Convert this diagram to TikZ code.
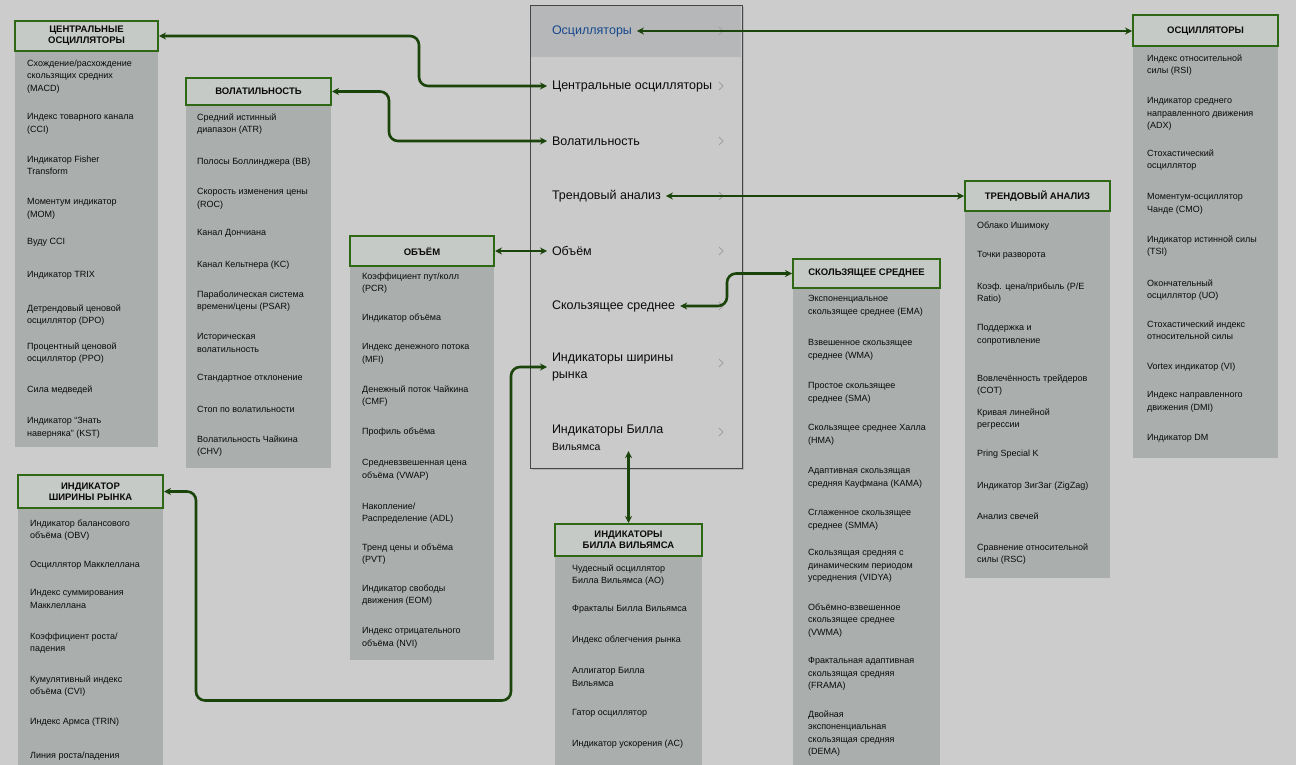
\documentclass[tikz,border=0pt]{standalone}
\usepackage{fontspec}
\setmainfont{Liberation Sans}
\usepackage{tikz}
\usetikzlibrary{arrows.meta, shadows}
\definecolor{IxBack}{RGB}{204,204,204}
\definecolor{IxPanel}{RGB}{170,174,172}
\definecolor{IxHead}{RGB}{198,202,198}
\definecolor{IxGreen}{RGB}{46,104,20}
\definecolor{IxLink}{RGB}{26,68,10}
\definecolor{IxMenu}{RGB}{202,202,202}
\definecolor{IxMenuTop}{RGB}{182,183,184}
\definecolor{IxBlue}{RGB}{22,72,140}
\definecolor{IxText}{RGB}{10,10,10}

\begin{document}
\begin{tikzpicture}[x=1pt, y=-1pt,
          head/.style={rectangle, draw=IxGreen, line width=2pt, fill=IxHead,
                       minimum width=143pt, minimum height=30pt, align=center,
                       inner sep=1pt, text=IxText,
                       font=\fontsize{9.5}{11}\selectfont\bfseries},
          item/.style={anchor=north west, align=left, inner sep=0pt, text=IxText,
                       font=\fontsize{9}{12.5}\selectfont},
          mitem/.style={anchor=west, align=left, inner sep=0pt, outer xsep=5pt,
                        text=IxText, font=\fontsize{12.5}{17}\selectfont},
          panel/.style={fill=IxPanel},
          chev/.style={draw=gray!75, line width=0.8pt},
          link/.style={{Stealth[length=7pt,width=7pt]}-{Stealth[length=7pt,width=7pt]},
                       draw=IxLink, line width=2.6pt, rounded corners=9pt}
        ]
        \useasboundingbox (0,0) rectangle (1296,765);
        \fill[IxBack] (0,0) rectangle (1296,765);

        % Menu
        \node[draw=gray!55!black, line width=0.8pt, fill=IxMenu, inner sep=0pt,
              minimum width=212pt, minimum height=463pt,
              drop shadow={opacity=0.35, shadow xshift=2pt, shadow yshift=-2pt}]
              (menu) at (636,236.5) {};
        \fill[IxMenuTop] (531,6) rectangle (741,57);

        \node[mitem, text=IxBlue] (m1) at (547,31)  {Осцилляторы};
        \node[mitem] (m2) at (547,86)  {Центральные осцилляторы};
        \node[mitem] (m3) at (547,141) {Волатильность};
        \node[mitem] (m4) at (547,196) {Трендовый анализ};
        \node[mitem] (m5) at (547,251) {Объём};
        \node[mitem] (m6) at (547,306) {Скользящее среднее};
        \node[mitem] (m7) at (547,367) {Индикаторы ширины\\рынка};
        \node[mitem] (m8) at (547,438) {Индикаторы Билла\\{\fontsize{10.5}{17}\selectfont Вильямса}};

        \foreach \y in {31,86,141,196,251,306,363,432}
          \draw[chev] (719,\y-4) -- (723,\y) -- (719,\y+4);

        % Central oscillators
        \fill[panel] (15,52) rectangle (158,447);
        \node[head] (hcen) at (86.5,36) {ЦЕНТРАЛЬНЫЕ\\ОСЦИЛЛЯТОРЫ};
        \foreach \y/\t [count=\i] in {
            64/{Схождение/расхождение\\скользящих средних\\(MACD)},
            118/{Индекс товарного канала\\(CCI)},
            160/{Индикатор Fisher\\Transform},
            203/{Моментум индикатор\\(MOM)},
            243/{Вуду CCI},
            276/{Индикатор TRIX},
            309/{Детрендовый ценовой\\осциллятор (DPO)},
            347/{Процентный ценовой\\осциллятор (PPO)},
            390/{Сила медведей},
            422/{Индикатор “Знать\\наверняка” (KST)}}
          \node[item] (cen\i) at (27,\y-4.5) {\t};

        % Volatility
        \fill[panel] (186,105) rectangle (331,468);
        \node[head, minimum width=145pt, minimum height=27pt] (hvol) at (258.5,91.5) {ВОЛАТИЛЬНОСТЬ};
        \foreach \y/\t [count=\i] in {
            118/{Средний истинный\\диапазон (ATR)},
            162/{Полосы Боллинджера (BB)},
            193/{Скорость изменения цены\\(ROC)},
            234/{Канал Дончиана},
            265/{Канал Кельтнера (KC)},
            295/{Параболическая система\\времени/цены (PSAR)},
            338/{Историческая\\волатильность},
            379/{Стандартное отклонение},
            411/{Стоп по волатильности},
            440/{Волатильность Чайкина\\(CHV)}}
          \node[item] (vol\i) at (197,\y-4.5) {\t};

        % Volume
        \fill[panel] (350,264) rectangle (494,660);
        \node[head, minimum width=144pt] (hvlm) at (422,251) {ОБЪЁМ};
        \foreach \y/\t [count=\i] in {
            277/{Коэффициент пут/колл\\(PCR)},
            318/{Индикатор объёма},
            348/{Индекс денежного потока\\(MFI)},
            390/{Денежный поток Чайкина\\(CMF)},
            432/{Профиль объёма},
            464/{Средневзвешенная цена\\объёма (VWAP)},
            507/{Накопление/\\Распределение (ADL)},
            548/{Тренд цены и объёма\\(PVT)},
            589/{Индикатор свободы\\движения (EOM)},
            632/{Индекс отрицательного\\объёма (NVI)}}
          \node[item] (vlm\i) at (362,\y-4.5) {\t};

        % Market width
        \fill[panel] (18,508) rectangle (163,765);
        \node[head, minimum width=145pt, minimum height=33pt] (hmw) at (90.5,491.5) {ИНДИКАТОР\\ШИРИНЫ РЫНКА};
        \foreach \y/\t [count=\i] in {
            524/{Индикатор балансового\\объёма (OBV)},
            566/{Осциллятор Макклеллана},
            594/{Индекс суммирования\\Макклеллана},
            637/{Коэффициент роста/\\падения},
            680/{Кумулятивный индекс\\объёма (CVI)},
            722/{Индекс Армса (TRIN)},
            756/{Линия роста/падения}}
          \node[item] (mw\i) at (30,\y-4.5) {\t};

        % Bill Williams
        \fill[panel] (555,556) rectangle (702,765);
        \node[head, minimum width=147pt, minimum height=32pt] (hbw) at (628.5,540) {ИНДИКАТОРЫ\\БИЛЛА ВИЛЬЯМСА};
        \foreach \y/\t [count=\i] in {
            569/{Чудесный осциллятор\\Билла Вильямса (AO)},
            610/{Фракталы Билла Вильямса},
            640/{Индекс облегчения рынка},
            672/{Аллигатор Билла\\Вильямса},
            714/{Гатор осциллятор},
            744/{Индикатор ускорения (AC)}}
          \node[item] (bw\i) at (572,\y-4.5) {\t};

        % Moving average
        \fill[panel] (793,288) rectangle (940,765);
        \node[head, minimum width=147pt, minimum height=29pt] (hma) at (866.5,273.5) {СКОЛЬЗЯЩЕЕ СРЕДНЕЕ};
        \foreach \y/\t [count=\i] in {
            300/{Экспоненциальное\\скользящее среднее (EMA)},
            344/{Взвешенное скользящее\\среднее (WMA)},
            387/{Простое скользящее\\среднее (SMA)},
            429/{Скользящее среднее Халла\\(HMA)},
            472/{Адаптивная скользящая\\средняя Кауфмана (KAMA)},
            514/{Сглаженное скользящее\\среднее (SMMA)},
            554/{Скользящая средняя с\\динамическим периодом\\усреднения (VIDYA)},
            608/{Объёмно-взвешенное\\скользящее среднее\\(VWMA)},
            662/{Фрактальная адаптивная\\скользящая средняя\\(FRAMA)},
            715/{Двойная\\экспоненциальная\\скользящая средняя\\(DEMA)}}
          \node[item] (ma\i) at (808,\y-4.5) {\t};

        % Trend analysis
        \fill[panel] (965,211) rectangle (1110,578);
        \node[head, minimum width=145pt] (htr) at (1037.5,196) {ТРЕНДОВЫЙ АНАЛИЗ};
        \foreach \y/\t [count=\i] in {
            226/{Облако Ишимоку},
            256/{Точки разворота},
            287/{Коэф. цена/прибыль (P/E\\Ratio)},
            329/{Поддержка и\\сопротивление},
            379/{Вовлечённость трейдеров\\(COT)},
            413/{Кривая линейной\\регрессии},
            454/{Pring Special K},
            486/{Индикатор ЗигЗаг (ZigZag)},
            517/{Анализ свечей},
            548/{Сравнение относительной\\силы (RSC)}}
          \node[item] (tr\i) at (977,\y-4.5) {\t};

        % Oscillators
        \fill[panel] (1133,46) rectangle (1278,458);
        \node[head, minimum width=145pt, minimum height=31pt] (hosc) at (1205.5,31) {ОСЦИЛЛЯТОРЫ};
        \foreach \y/\t [count=\i] in {
            59/{Индекс относительной\\силы (RSI)},
            102/{Индикатор среднего\\направленного движения\\(ADX)},
            154/{Стохастический\\осциллятор},
            198/{Моментум-осциллятор\\Чанде (CMO)},
            240/{Индикатор истинной силы\\(TSI)},
            284/{Окончательный\\осциллятор (UO)},
            325/{Стохастический индекс\\относительной силы},
            367/{Vortex индикатор (VI)},
            396/{Индекс направленного\\движения (DMI)},
            439/{Индикатор DM}}
          \node[item] (osc\i) at (1147,\y-4.5) {\t};

        % Links
        \draw[link] (m1.east)   -- (hosc.west);
        \draw[link] (hcen.east) -| ([xshift=-128pt]m2.west) -- (m2.west);
        \draw[link] (hvol.east) -| ([xshift=-158pt]m3.west) -- (m3.west);
        \draw[link] (m4.east)   -- (htr.west);
        \draw[link] (hvlm.east) -- (m5.west);
        \draw[link] (m6.east)   -| ([xshift=-65pt]hma.west) -- (hma.west);
        \draw[link] (hmw.east)  -- ++(32,0) -- ++(0,209)
                    -| ([xshift=-36pt]m7.west) -- (m7.west);
        \draw[link] (hbw.north) -- (hbw.north |- m8.south);
      \end{tikzpicture}
\end{document}
